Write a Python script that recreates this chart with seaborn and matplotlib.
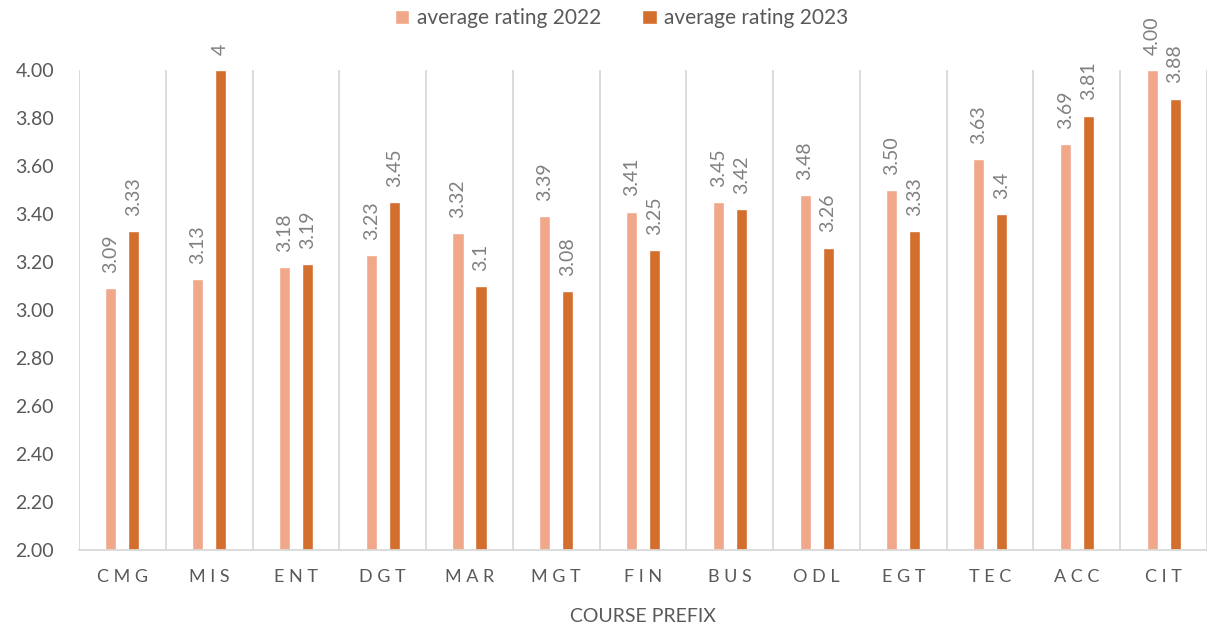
import pandas as pd
import matplotlib
matplotlib.use("Agg")
import matplotlib.pyplot as plt
import seaborn as sns

prefixes = ["CMG", "MIS", "ENT", "DGT", "MAR", "MGT", "FIN",
            "BUS", "ODL", "EGT", "TEC", "ACC", "CIT"]
rating_2022 = [3.09, 3.13, 3.18, 3.23, 3.32, 3.39, 3.41,
               3.45, 3.48, 3.50, 3.63, 3.69, 4.00]
rating_2023 = [3.33, 4, 3.19, 3.45, 3.1, 3.08, 3.25,
               3.42, 3.26, 3.33, 3.4, 3.81, 3.88]
series_names = ["average rating 2022", "average rating 2023"]
colors = ["#F1A78A", "#D46E2C"]

# long format for seaborn
df = pd.DataFrame({
    "prefix": prefixes * 2,
    "rating": rating_2022 + rating_2023,
    "series": [series_names[0]] * len(prefixes) + [series_names[1]] * len(prefixes),
})

sns.set_theme(style="white")
plt.rcParams["font.family"] = ["Lato", "DejaVu Sans"]

fig = plt.figure(figsize=(12.07, 6.27), dpi=100)
ax = fig.add_axes([0.0655, 0.1228, 0.9345, 0.7656])

sns.barplot(data=df, x="prefix", y="rating", hue="series", palette=colors,
            width=0.53, gap=0.52, ax=ax, errorbar=None, saturation=1)

# data labels: 2022 with two decimals, 2023 as is
fmts = [lambda v: f"{v:.2f}", lambda v: f"{v:g}"]
for cont, fmt in zip(ax.containers, fmts):
    ax.bar_label(cont, labels=[fmt(v) for v in cont.datavalues], rotation=90,
                 padding=11, fontsize=14, color="#808080", clip_on=False)

ax.set_ylim(2, 4)
ax.set_yticks([2 + 0.2 * i for i in range(11)])
ax.set_yticklabels([f"{2 + 0.2 * i:.2f}" for i in range(11)])
ax.set_xlim(-0.5, len(prefixes) - 0.5)
ax.set_xticks(range(len(prefixes)))
ax.set_xticklabels([" ".join(p) for p in prefixes])

# vertical gridlines between categories
ax.set_xticks([i - 0.5 for i in range(len(prefixes) + 1)], minor=True)
ax.grid(False)
ax.grid(True, which="minor", axis="x", color="#D9D9D9", linewidth=1.3)
ax.tick_params(axis="both", which="both", length=0)
ax.tick_params(axis="y", labelsize=14, labelcolor="#595959", pad=18)
ax.tick_params(axis="x", labelsize=13, labelcolor="#595959", pad=14)

for side in ["top", "right", "left"]:
    ax.spines[side].set_visible(False)
ax.spines["bottom"].set_color("#D9D9D9")
ax.spines["bottom"].set_linewidth(1.3)

ax.set_xlabel("COURSE PREFIX", fontsize=14, color="#595959", labelpad=16)
ax.set_ylabel("")

handles, labels = ax.get_legend_handles_labels()
ax.get_legend().remove()
leg = fig.legend(handles, labels, loc="center", bbox_to_anchor=(0.515, 0.971),
                 ncol=2, frameon=False, fontsize=15, handlelength=0.7,
                 handleheight=0.7, handletextpad=0.35, columnspacing=2.0)
for t in leg.get_texts():
    t.set_color("#595959")

fig.savefig("out.png", dpi=100)
